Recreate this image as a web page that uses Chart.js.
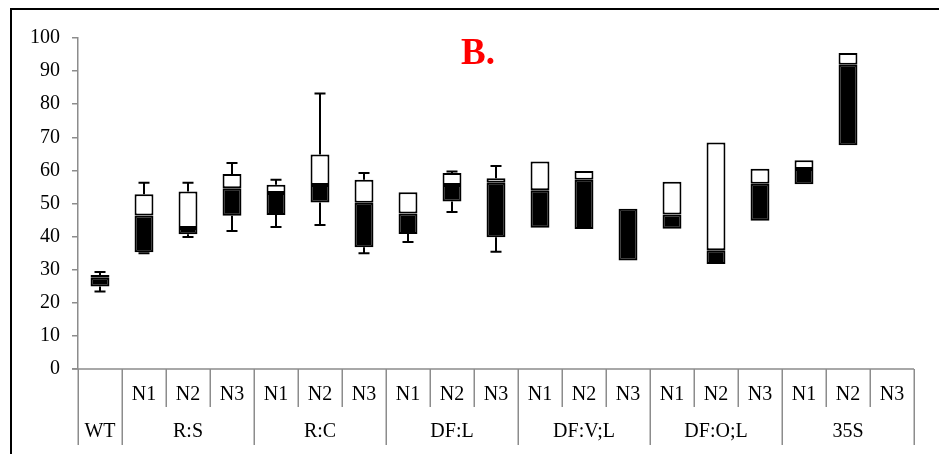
<!DOCTYPE html>
<html>
<head>
<meta charset="utf-8">
<script src="https://cdn.jsdelivr.net/npm/chart.js@4"></script>
<style>
  body { margin: 0; background: #fff; }
  #frame { position: absolute; left: 10px; top: 8px; width: 940px; height: 500px;
           border-left: 2px solid #000; border-top: 2px solid #000; }
  #chart { position: absolute; left: 0; top: 0; }
</style>
</head>
<body>
<div id="frame"></div>
<canvas id="chart" width="939" height="454"></canvas>
<script>
// lines and groups of the x axis
const subLabels = ['', 'N1', 'N2', 'N3', 'N1', 'N2', 'N3', 'N1', 'N2', 'N3',
                   'N1', 'N2', 'N3', 'N1', 'N2', 'N3', 'N1', 'N2', 'N3'];
const groups = ['WT', 'R:S', 'R:C', 'DF:L', 'DF:V;L', 'DF:O;L', '35S'];
const groupSizes = [1, 3, 3, 3, 3, 3, 3];

// box plot stats per line
const mins    = [23.4, 35.0, 39.9, 41.7, 42.9, 43.5, 35.0, 38.4, 47.4, 35.4, 42.7, 42.3, 32.8, 42.4, 31.7, 44.8, 55.8, 67.6, null];
const q1s     = [24.9, 35.3, 40.7, 46.3, 46.5, 50.3, 36.8, 40.8, 50.6, 39.8, 42.7, 42.3, 32.8, 42.4, 31.7, 44.8, 55.8, 67.6, null];
const medians = [27.6, 46.4, 42.6, 54.6, 53.2, 55.6, 50.2, 47.0, 55.6, 56.3, 54.0, 57.2, 48.4, 46.7, 35.9, 56.0, 60.4, 91.9, null];
const q3s     = [28.4, 52.8, 53.6, 58.9, 55.7, 64.8, 57.2, 53.4, 59.2, 57.6, 62.7, 59.8, 48.4, 56.6, 68.4, 60.5, 63.1, 95.5, null];
const maxs    = [29.3, 56.3, 56.3, 62.2, 57.2, 83.2, 59.2, 53.4, 59.7, 61.3, 62.7, 59.8, 48.4, 56.6, 68.4, 60.5, 63.1, 95.5, null];

const yTicks = [0, 10, 20, 30, 40, 50, 60, 70, 80, 90, 100];

const FONT = "'Liberation Serif', 'Times New Roman', serif";
const AXIS_GREY = '#8c8c8c';

// full labels for the category scale
const labels = [];
let gi = 0, left = groupSizes[0];
subLabels.forEach((s, i) => {
    if (left === 0) { gi++; left = groupSizes[gi]; }
    left--;
    labels.push(s ? groups[gi] + ' ' + s : groups[gi]);
});

const lowerBoxes = q1s.map((q, i) => q == null ? null : [q, medians[i]]);
const upperBoxes = q3s.map((q, i) => q == null ? null : [medians[i], q]);

// whiskers with caps, drawn under the boxes
const whiskerPlugin = {
    id: 'whiskers',
    beforeDatasetsDraw(chart) {
        const { ctx, scales: { x, y } } = chart;
        ctx.save();
        ctx.strokeStyle = '#000';
        ctx.lineWidth = 2;
        const cap = 5.5;
        mins.forEach((mn, i) => {
            if (mn == null) return;
            const cx = x.getPixelForValue(i);
            const pairs = [[q3s[i], maxs[i]], [q1s[i], mn]];
            pairs.forEach(([from, to]) => {
                if (Math.abs(to - from) < 0.05) return;
                const y0 = y.getPixelForValue(from);
                const y1 = y.getPixelForValue(to);
                ctx.beginPath();
                ctx.moveTo(cx, y0);
                ctx.lineTo(cx, y1);
                ctx.moveTo(cx - cap, y1);
                ctx.lineTo(cx + cap, y1);
                ctx.stroke();
            });
        });
        ctx.restore();
    }
};

// two-row category table under the plot, plus the panel letter
const tablePlugin = {
    id: 'categoryTable',
    afterDraw(chart) {
        const { ctx, chartArea, scales: { x } } = chart;
        const n = subLabels.length;
        const step = (chartArea.right - chartArea.left) / n;
        const base = chartArea.bottom;
        const rowSplit = base + 38;
        const bottom = base + 76;

        // group boundaries (index of first line in each group)
        const bounds = [0];
        groupSizes.forEach(s => bounds.push(bounds[bounds.length - 1] + s));

        ctx.save();
        ctx.strokeStyle = AXIS_GREY;
        ctx.lineWidth = 1.5;
        ctx.beginPath();
        ctx.moveTo(chartArea.left - 6, base);
        ctx.lineTo(chartArea.right, base);
        for (let i = 0; i <= n; i++) {
            const bx = Math.round(chartArea.left + i * step) + 0.25;
            ctx.moveTo(bx, base);
            ctx.lineTo(bx, bounds.includes(i) ? bottom : rowSplit);
        }
        ctx.stroke();

        ctx.fillStyle = '#000';
        ctx.font = '20px ' + FONT;
        ctx.textAlign = 'center';
        ctx.textBaseline = 'middle';
        subLabels.forEach((s, i) => {
            if (s) ctx.fillText(s, x.getPixelForValue(i), base + 26);
        });
        groups.forEach((g, k) => {
            const a = x.getPixelForValue(bounds[k]);
            const b = x.getPixelForValue(bounds[k + 1] - 1);
            ctx.fillText(g, (a + b) / 2, base + 63);
        });

        ctx.fillStyle = '#ff0000';
        ctx.font = 'bold 37px ' + FONT;
        ctx.textBaseline = 'alphabetic';
        ctx.fillText('B.', 478, 64);
        ctx.restore();
    }
};

new Chart(document.getElementById('chart'), {
    type: 'bar',
    data: {
        labels: labels,
        datasets: [
            {
                label: 'Q1 to median',
                data: lowerBoxes,
                backgroundColor: '#000',
                borderColor: '#000',
                borderWidth: 2,
                borderSkipped: false,
                grouped: false,
                order: 1
            },
            {
                label: 'median to Q3',
                data: upperBoxes,
                backgroundColor: '#fff',
                borderColor: '#000',
                borderWidth: 2,
                borderSkipped: false,
                grouped: false,
                order: 2
            }
        ]
    },
    options: {
        responsive: false,
        animation: false,
        devicePixelRatio: 1,
        layout: { padding: { top: 38, right: 25, bottom: 85, left: 0 } },
        datasets: { bar: { categoryPercentage: 1, barPercentage: 0.43 } },
        plugins: {
            legend: { display: false },
            tooltip: { enabled: false }
        },
        scales: {
            x: { display: false, offset: true },
            y: {
                min: 0,
                max: 100,
                afterBuildTicks(scale) { scale.ticks = yTicks.map(v => ({ value: v })); },
                afterFit(scale) { scale.width = 78; },
                border: { color: AXIS_GREY, width: 1.5 },
                grid: { drawOnChartArea: false, color: AXIS_GREY, lineWidth: 1.5, tickLength: 6 },
                ticks: { color: '#000', font: { family: FONT, size: 20 }, padding: 12 }
            }
        }
    },
    plugins: [whiskerPlugin, tablePlugin]
});
</script>
</body>
</html>
